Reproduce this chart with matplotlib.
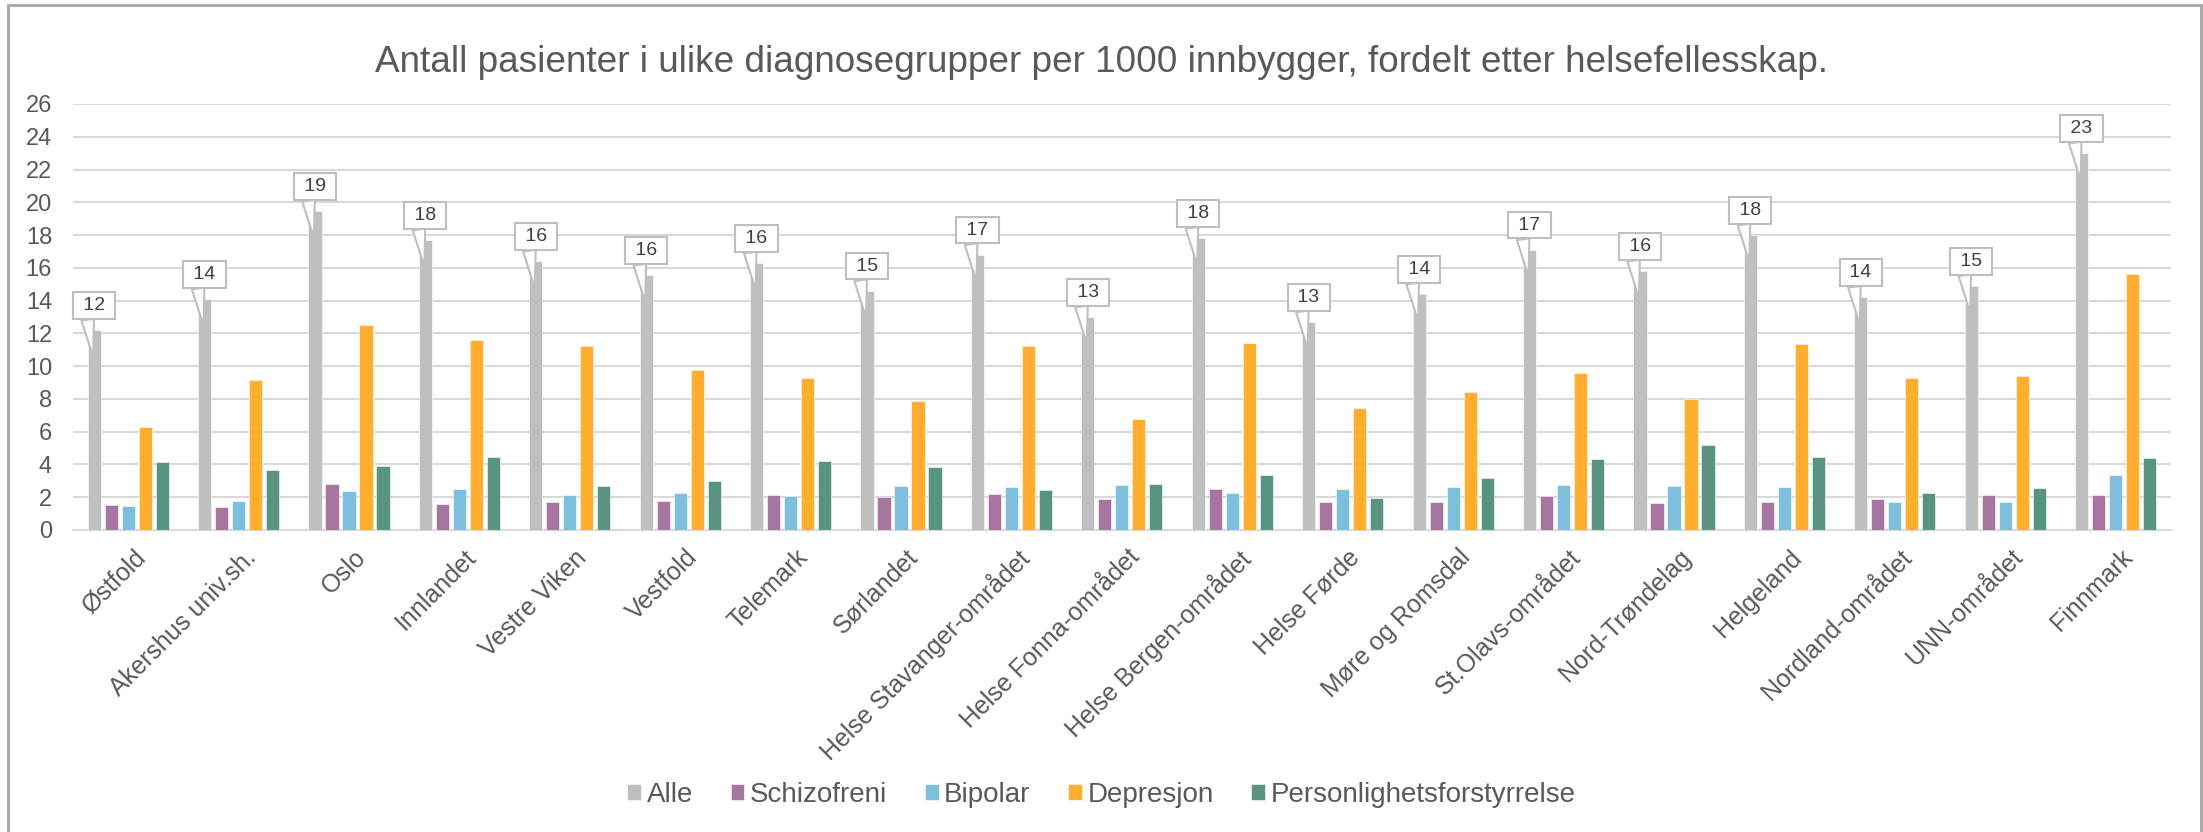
import numpy as np
import matplotlib
matplotlib.use('Agg')
import matplotlib.pyplot as plt
from matplotlib.patches import Rectangle
from matplotlib.transforms import ScaledTranslation

plt.rcParams['font.family'] = ['Liberation Sans', 'DejaVu Sans']

# Data
regions = ['Østfold', 'Akershus univ.sh.', 'Oslo', 'Innlandet', 'Vestre Viken',
           'Vestfold', 'Telemark', 'Sørlandet', 'Helse Stavanger-området',
           'Helse Fonna-området', 'Helse Bergen-området', 'Helse Førde',
           'Møre og Romsdal', 'St.Olavs-området', 'Nord-Trøndelag', 'Helgeland',
           'Nordland-området', 'UNN-området', 'Finnmark']
alle = [12.2, 14.1, 19.45, 17.7, 16.4, 15.55, 16.3, 14.6, 16.8, 13.0, 17.8, 12.7,
        14.4, 17.1, 15.8, 18.0, 14.2, 14.9, 23.0]
schizofreni = [1.55, 1.42, 2.81, 1.61, 1.73, 1.77, 2.12, 2.01, 2.18, 1.87, 2.50,
               1.71, 1.71, 2.08, 1.63, 1.71, 1.91, 2.14, 2.12]
bipolar = [1.49, 1.75, 2.40, 2.52, 2.12, 2.26, 2.05, 2.67, 2.60, 2.77, 2.24,
           2.50, 2.62, 2.77, 2.67, 2.62, 1.71, 1.73, 3.38]
depresjon = [6.27, 9.14, 12.51, 11.6, 11.25, 9.79, 9.28, 7.85, 11.25, 6.75,
             11.43, 7.47, 8.40, 9.56, 7.98, 11.37, 9.26, 9.42, 15.6]
personlighet = [4.17, 3.66, 3.93, 4.48, 2.67, 2.99, 4.21, 3.87, 2.44, 2.81,
                3.34, 1.97, 3.17, 4.31, 5.17, 4.46, 2.24, 2.54, 4.37]

series_names = ['Alle', 'Schizofreni', 'Bipolar', 'Depresjon', 'Personlighetsforstyrrelse']
series_vals = [alle, schizofreni, bipolar, depresjon, personlighet]
colors = ['#bfbfbf', '#a776a0', '#7fbfde', '#ffae2f', '#589480']

TXT = '#595959'

fig = plt.figure(figsize=(22.03, 8.32), dpi=100)
ax = fig.add_axes([0.0331, 0.363, 0.9523, 0.512])

x = np.arange(len(regions))
pitch = 0.154
width = 0.119
bars_alle = None
for i, (name, vals, c) in enumerate(zip(series_names, series_vals, colors)):
    bars = ax.bar(x + (i - 2) * pitch, vals, width, color=c, label=name,
                  edgecolor='white', linewidth=0.4, zorder=3)
    if i == 0:
        bars_alle = bars

ax.set_xlim(-0.5, len(regions) - 0.5)
ax.set_ylim(0, 26)
ax.set_yticks(np.arange(0, 27, 2))
ax.yaxis.grid(True, color='#d9d9d9', linewidth=1.5, zorder=0)
ax.set_axisbelow(True)
for s in ['top', 'right', 'left']:
    ax.spines[s].set_visible(False)
ax.spines['bottom'].set_color('#d9d9d9')
ax.spines['bottom'].set_linewidth(1.5)
ax.tick_params(axis='y', length=0, labelsize=17, labelcolor=TXT, pad=15)
ax.tick_params(axis='x', length=0, labelsize=18, labelcolor=TXT, pad=11)
ax.set_xticks(x)
ax.set_xticklabels(regions, rotation=45, ha='right', rotation_mode='anchor')
shift = ScaledTranslation(0.05, 0, fig.dpi_scale_trans)
for lbl in ax.get_xticklabels():
    lbl.set_transform(lbl.get_transform() + shift)

# callout labels on the "Alle" bars
tip_tr = ax.transData + ScaledTranslation(-0.01, -0.267, fig.dpi_scale_trans)
for rect, v in zip(bars_alle, alle):
    cx = rect.get_x() + rect.get_width() / 2
    ax.annotate(f' {v:.0f} ', xy=(cx, v), xycoords=tip_tr,
                xytext=(0.7, 37.0), textcoords='offset points',
                ha='center', va='center', fontsize=14, color='#404040',
                bbox=dict(boxstyle='square,pad=0.25', fc='white', ec='#bfbfbf', lw=1.5),
                arrowprops=dict(arrowstyle='wedge,tail_width=0.65,shrink_factor=0.5',
                                fc='white', ec='#bfbfbf', lw=1.5,
                                relpos=(0.28, 0.0), shrinkA=0, shrinkB=0),
                zorder=5)

fig.text(0.5, 0.9243,
         'Antall pasienter i ulike diagnosegrupper per 1000 innbygger, fordelt etter helsefellesskap.',
         ha='center', va='center', fontsize=26.6, color=TXT)

fig.legend(loc='center', bbox_to_anchor=(0.5, 0.0445), ncol=5, frameon=False,
           fontsize=20, labelcolor=TXT, handlelength=0.5, handleheight=0.5,
           handletextpad=0.2, columnspacing=1.35)

fig.patches.append(Rectangle((0.0035, -0.01), 0.9955, 1.004, transform=fig.transFigure,
                             fill=False, ec='#a6a6a6', lw=2))

fig.savefig('out.png', dpi=100)
